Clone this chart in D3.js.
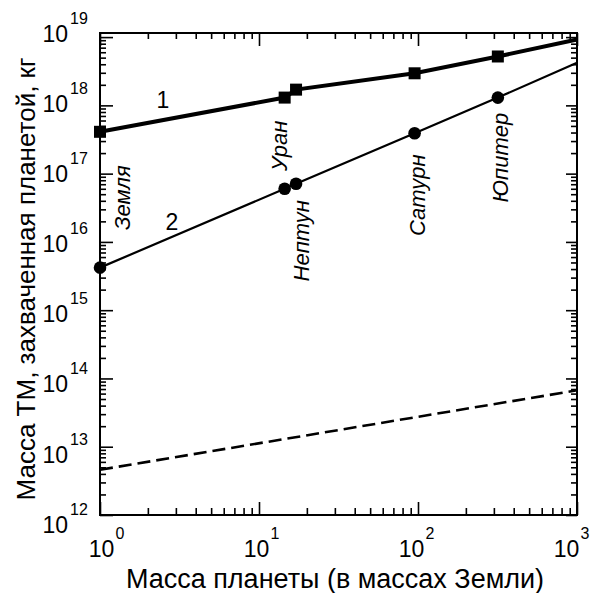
<!DOCTYPE html>
<html>
<head>
<meta charset="utf-8">
<script src="https://cdn.jsdelivr.net/npm/d3@7"></script>
<style>
  body { margin: 0; background: #fff; }
  svg { display: block; }
  text { font-family: "Liberation Sans", Arial, sans-serif; fill: #000; }
</style>
</head>
<body>
<svg id="chart" width="591" height="593"></svg>
<script>
// planets and their masses (in Earth masses)
const planets = ["Земля", "Уран", "Нептун", "Сатурн", "Юпитер"];
const planetMass = [1, 14.5, 17.1, 95.2, 317.8];

// curve 1 (squares) and curve 2 (circles), kg
const curve1 = [4.1e17, 1.3e18, 1.7e18, 2.95e18, 5.2e18];
const curve2 = [4.2e15, 6.0e16, 7.1e16, 3.9e17, 1.3e18];
const endMass = 1000;
const curve1End = 9.2e18;
const curve2End = 4.2e18;

// dashed line
const dashedMass = [1, 1000];
const dashedValues = [4.6e12, 6.7e13];

// tick exponents
const xTickExps = [0, 1, 2, 3];
const yTickExps = [12, 13, 14, 15, 16, 17, 18, 19];

// label offsets from the curve-2 points (layout only)
const labelOffsets = [[22, -70], [-5, -43], [5, 57], [3, 62], [2, 60]];

const svg = d3.select("#chart");
const mLeft = 100, mRight = 577, mTop = 33, mBottom = 515;

const x = d3.scaleLog().domain([1, 1000]).range([mLeft, mRight]);
const y = d3.scaleLog().domain([1e12, Math.pow(10, 19.06)]).range([mBottom, mTop]);

// tick values: majors and minors
const minorVals = (exps) => {
  const out = [];
  exps.slice(0, -1).forEach(e => {
    for (let k = 2; k <= 9; k++) out.push(k * Math.pow(10, e));
  });
  return out;
};
const xMajor = xTickExps.map(e => Math.pow(10, e));
const yMajor = yTickExps.map(e => Math.pow(10, e));
const xMinor = minorVals(xTickExps);
const yMinor = minorVals(yTickExps);

function axisGroup(axisFn, scale, vals, size, transform) {
  const g = svg.append("g").attr("transform", transform)
    .call(axisFn(scale).tickValues(vals).tickSize(size).tickFormat(""));
  g.select(".domain").remove();
  g.selectAll("line").attr("stroke", "#000").attr("stroke-width", 1.6);
}

// bottom / top
axisGroup(d3.axisTop, x, xMajor, 13, `translate(0,${mBottom})`);
axisGroup(d3.axisTop, x, xMinor, 7, `translate(0,${mBottom})`);
axisGroup(d3.axisBottom, x, xMajor, 13, `translate(0,${mTop})`);
axisGroup(d3.axisBottom, x, xMinor, 6, `translate(0,${mTop})`);
// left / right
axisGroup(d3.axisRight, y, yMajor, 13, `translate(${mLeft},0)`);
axisGroup(d3.axisRight, y, yMinor, 6, `translate(${mLeft},0)`);
axisGroup(d3.axisLeft, y, yMajor, 11, `translate(${mRight},0)`);
axisGroup(d3.axisLeft, y, yMinor, 6, `translate(${mRight},0)`);

// frame
svg.append("rect")
  .attr("x", mLeft).attr("y", mTop)
  .attr("width", mRight - mLeft).attr("height", mBottom - mTop)
  .attr("fill", "none").attr("stroke", "#000").attr("stroke-width", 2);

// y tick labels (spaced slightly wider than the ticks, as in the original)
yTickExps.forEach(e => {
  const ty = y(Math.pow(10, e)) + 5 + 1.8 * (19 - e);
  svg.append("text").attr("x", 68).attr("y", ty)
    .attr("text-anchor", "end").style("font-size", "23px").text("10");
  svg.append("text").attr("x", 70).attr("y", ty - 18)
    .style("font-size", "16px").text(e);
});

// x tick labels
xTickExps.forEach(e => {
  const tx = x(Math.pow(10, e));
  const cx = tx + 1.5 - 0.025 * (tx - mLeft);
  svg.append("text").attr("x", cx).attr("y", 557)
    .attr("text-anchor", "middle").style("font-size", "23px").text("10");
  svg.append("text").attr("x", cx + 14).attr("y", 539)
    .style("font-size", "16px").text(e);
});

// axis titles
svg.append("text")
  .attr("transform", `translate(35,${(mTop + mBottom) / 2 + 5}) rotate(-90)`)
  .attr("text-anchor", "middle").style("font-size", "26px")
  .text("Масса ТМ, захваченная планетой, кг");
svg.append("text")
  .attr("x", 335).attr("y", 588)
  .attr("text-anchor", "middle").style("font-size", "27px")
  .text("Масса планеты (в массах Земли)");

const line = d3.line().x(d => x(d[0])).y(d => y(d[1]));

const pts1 = planetMass.map((m, i) => [m, curve1[i]]).concat([[endMass, curve1End]]);
const pts2 = planetMass.map((m, i) => [m, curve2[i]]).concat([[endMass, curve2End]]);
const ptsD = dashedMass.map((m, i) => [m, dashedValues[i]]);

svg.append("path").datum(pts1).attr("d", line)
  .attr("fill", "none").attr("stroke", "#000").attr("stroke-width", 4);
svg.append("path").datum(pts2).attr("d", line)
  .attr("fill", "none").attr("stroke", "#000").attr("stroke-width", 2.2);
svg.append("path").datum(ptsD).attr("d", line)
  .attr("fill", "none").attr("stroke", "#000").attr("stroke-width", 2.6)
  .attr("stroke-dasharray", "13,6");

// markers
const sq = 12;
svg.selectAll("rect.sq").data(pts1.slice(0, planets.length)).enter()
  .append("rect").attr("class", "sq")
  .attr("x", d => x(d[0]) - sq / 2).attr("y", d => y(d[1]) - sq / 2)
  .attr("width", sq).attr("height", sq).attr("fill", "#000");
svg.selectAll("circle.pt").data(pts2.slice(0, planets.length)).enter()
  .append("circle").attr("class", "pt")
  .attr("cx", d => x(d[0])).attr("cy", d => y(d[1]))
  .attr("r", 6.3).attr("fill", "#000");

// curve numbers
svg.append("text").attr("x", 163).attr("y", 108)
  .attr("text-anchor", "middle").style("font-size", "23px").text("1");
svg.append("text").attr("x", 172).attr("y", 230)
  .attr("text-anchor", "middle").style("font-size", "23px").text("2");

// planet names
planets.forEach((p, i) => {
  const px = x(planetMass[i]) + labelOffsets[i][0];
  const py = y(curve2[i]) + labelOffsets[i][1];
  svg.append("text")
    .attr("transform", `translate(${px},${py}) rotate(-90)`)
    .attr("text-anchor", "middle").attr("dy", "0.35em")
    .style("font-size", "22px").style("font-style", "italic")
    .text(p);
});
</script>
</body>
</html>
